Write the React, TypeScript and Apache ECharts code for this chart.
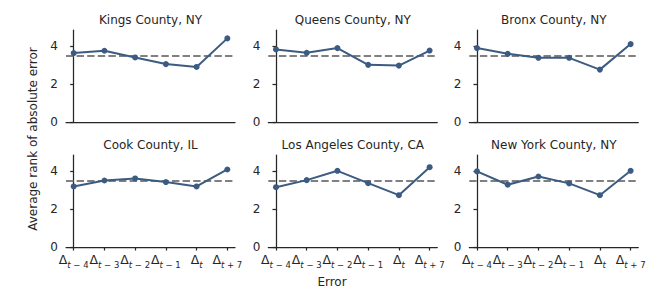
import React, { useEffect, useRef } from "react";
import * as echarts from "echarts";

const titles = [
  "Kings County, NY",
  "Queens County, NY",
  "Bronx County, NY",
  "Cook County, IL",
  "Los Angeles County, CA",
  "New York County, NY",
];
const tickSubs = ["t − 4", "t − 3", "t − 2", "t − 1", "t", "t + 7"];
const kings = [3.62, 3.74, 3.39, 3.04, 2.89, 4.39];
const queens = [3.81, 3.63, 3.88, 3.0, 2.96, 3.75];
const bronx = [3.88, 3.58, 3.37, 3.37, 2.75, 4.09];
const cook = [3.18, 3.49, 3.6, 3.41, 3.18, 4.07];
const losAngeles = [3.14, 3.51, 4.0, 3.35, 2.72, 4.19];
const newYork = [3.97, 3.27, 3.7, 3.34, 2.72, 4.0];
const seriesValues = [kings, queens, bronx, cook, losAngeles, newYork];
const baseline = 3.5;
const yTicks = [0, 2, 4];
const yMax = 4.83;

const FONT = "DejaVu Sans";
const LINE = "#3b5b82";
const AXIS = "#262626";

export default function App() {
  const ref = useRef<HTMLDivElement>(null);
  useEffect(() => {
    if (!ref.current) return;
    const chart = echarts.init(ref.current, null, { renderer: "svg" });
    const lefts = [66, 268.3, 469.3];
    const width = 169;
    const tops = [30, 155];
    const height = 92;
    const grids: any[] = [];
    const xAxes: any[] = [];
    const yAxes: any[] = [];
    const series: any[] = [];
    const graphics: any[] = [];
    for (let i = 0; i < 6; i++) {
      const r = Math.floor(i / 3);
      const c = i % 3;
      grids.push({ left: lefts[c], top: tops[r], width, height });
      const bottomRow = r === 1;
      xAxes.push({
        type: "value",
        gridIndex: i,
        min: -0.25,
        max: 5.25,
        splitLine: { show: false },
        axisLine: { show: true, lineStyle: { color: AXIS, width: 1.25 } },
        axisTick: {
          show: bottomRow,
          customValues: [0, 1, 2, 3, 4, 5],
          length: 3.5,
          lineStyle: { color: AXIS, width: 1.25 },
        },
        axisLabel: {
          show: bottomRow,
          customValues: [0, 1, 2, 3, 4, 5],
          margin: 6,
          formatter: (v: number) => {
            const s = tickSubs[Math.round(v)];
            const rest = s.slice(1);
            return rest ? `{d|Δ}{i|t}{s|${rest}}` : `{d|Δ}{i|t}`;
          },
          rich: {
            d: { fontFamily: FONT, fontSize: 12.5, color: AXIS, lineHeight: 14, verticalAlign: "top" },
            i: { fontFamily: FONT, fontSize: 8.5, fontStyle: "italic", color: AXIS, padding: [7, 0, 0, 0], lineHeight: 14, verticalAlign: "top" },
            s: { fontFamily: FONT, fontSize: 8.5, color: AXIS, padding: [7, 0, 0, 0], lineHeight: 14, verticalAlign: "top" },
          },
        },
      });
      yAxes.push({
        type: "value",
        gridIndex: i,
        min: 0,
        max: yMax,
        splitLine: { show: false },
        axisLine: { show: true, lineStyle: { color: AXIS, width: 1.25 } },
        axisTick: { show: true, customValues: yTicks, length: 3.5, lineStyle: { color: AXIS, width: 1.25 } },
        axisLabel: {
          customValues: yTicks,
          margin: 8,
          fontFamily: FONT,
          fontSize: 12,
          color: AXIS,
        },
      });
      series.push({
        type: "line",
        xAxisIndex: i,
        yAxisIndex: i,
        data: seriesValues[i].map((v, k) => [k, v]),
        symbol: "circle",
        symbolSize: 6,
        lineStyle: { color: LINE, width: 2 },
        itemStyle: { color: LINE },
        z: 3,
        markLine: {
          silent: true,
          symbol: "none",
          label: { show: false },
          lineStyle: { color: "#808080", width: 2.2, type: [7.4, 3.2] },
          data: [{ yAxis: baseline }],
          z: 2,
        },
      });
      graphics.push({
        type: "text",
        x: lefts[c] + width / 2,
        y: tops[r] - 10,
        style: {
          text: titles[i],
          align: "center",
          verticalAlign: "middle",
          fontFamily: FONT,
          fontSize: 12,
          fill: AXIS,
        },
      });
    }
    graphics.push({
      type: "text",
      x: 33,
      y: 139,
      rotation: Math.PI / 2,
      style: {
        text: "Average rank of absolute error",
        align: "center",
        verticalAlign: "middle",
        fontFamily: FONT,
        fontSize: 12,
        fill: AXIS,
      },
    });
    graphics.push({
      type: "text",
      x: 332,
      y: 282,
      style: {
        text: "Error",
        align: "center",
        verticalAlign: "middle",
        fontFamily: FONT,
        fontSize: 12,
        fill: AXIS,
      },
    });
    chart.setOption({
      animation: false,
      backgroundColor: "#ffffff",
      grid: grids,
      xAxis: xAxes,
      yAxis: yAxes,
      series,
      graphic: graphics,
    });
    return () => chart.dispose();
  }, []);
  return <div ref={ref} style={{ width: 664, height: 295, position: "absolute", left: 0, top: 0 }} />;
}
